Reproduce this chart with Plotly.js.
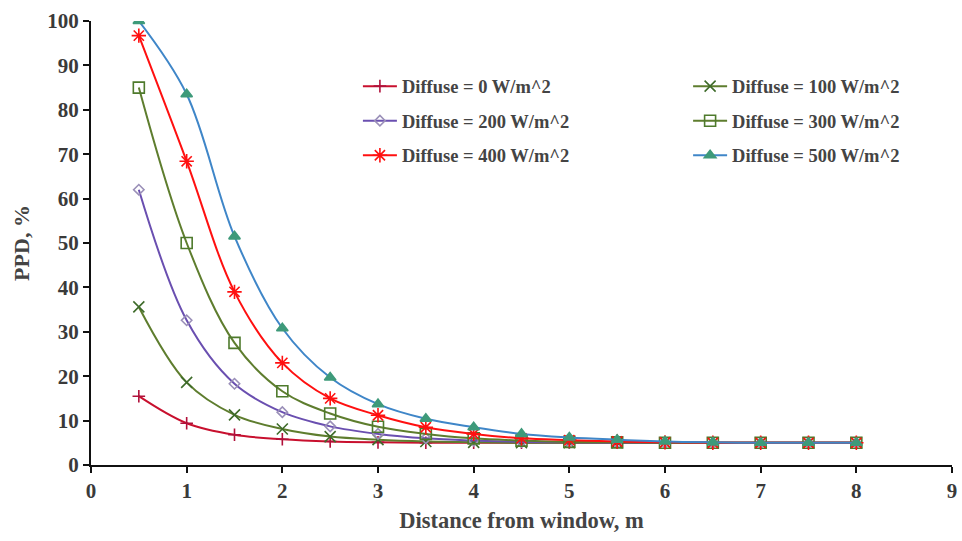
<!DOCTYPE html>
<html><head><meta charset="utf-8">
<script src="https://cdn.plot.ly/plotly-3.0.1.min.js"></script>
<style>html,body{margin:0;padding:0;background:#fff}#chart{width:962px;height:541px}</style>
</head><body><div id="chart"></div>
<script>
const distance = [0.5,1,1.5,2,2.5,3,3.5,4,4.5,5,5.5,6,6.5,7,7.5,8];
const seriesNames = ["Diffuse = 0 W/m^2","Diffuse = 100 W/m^2","Diffuse = 200 W/m^2","Diffuse = 300 W/m^2","Diffuse = 400 W/m^2","Diffuse = 500 W/m^2"];
const ppd0   = [15.5,9.4,6.8,5.8,5.3,5.1,5.0,5.0,5.0,5.0,5.0,5.0,5.0,5.0,5.0,5.0];
const ppd100 = [35.6,18.6,11.3,8.1,6.4,5.7,5.3,5.1,5.0,5.0,5.0,5.0,5.0,5.0,5.0,5.0];
const ppd200 = [62.0,32.6,18.3,11.9,8.7,7.0,6.0,5.5,5.2,5.1,5.0,5.0,5.0,5.0,5.0,5.0];
const ppd300 = [85.0,50.0,27.5,16.6,11.6,8.6,7.0,6.0,5.5,5.2,5.1,5.0,5.0,5.0,5.0,5.0];
const ppd400 = [96.7,68.4,39.0,23.0,15.0,11.2,8.5,7.0,6.0,5.6,5.3,5.1,5.0,5.0,5.0,5.0];
const ppd500 = [100.0,83.5,51.5,30.8,19.7,13.7,10.4,8.5,7.0,6.2,5.7,5.3,5.1,5.0,5.0,5.0];
const xTicks = [0,1,2,3,4,5,6,7,8,9];
const yTicks = [0,10,20,30,40,50,60,70,80,90,100];

const allData = [ppd0,ppd100,ppd200,ppd300,ppd400,ppd500];
const lineColors = ["#C8102E","#5E7D2E","#6A4FB0","#5E7D2E","#FF1010","#3F86C8"];
const markerColors = ["#B0103A","#3E6B2A","#9A8FB8","#4E7A2C","#FF1010","#3E9A7A"];
const symbols = ["cross-thin-open","x-thin-open","diamond-open","square-open","asterisk-open","triangle-up"];
const sizes = [9,11,8,11,12,10];
const legendsOf = ["legend","legend2","legend","legend2","legend","legend2"];

const traces = allData.map((d,i)=>({
  x: distance, y: d, name: seriesNames[i], type:"scatter", mode:"lines+markers",
  line:{color:lineColors[i], width:2, shape:"spline", smoothing:1},
  marker:{symbol:symbols[i], size:sizes[i], color:markerColors[i], line:{color:markerColors[i], width:1.6}},
  legend: legendsOf[i], legendgroup: "g"+i
}));

const fam = "Liberation Serif, Times New Roman, serif";
const legendFont = {family:fam, color:"#444", size:18.5, weight:"bold"};
const layout = {
  width:962, height:541,
  margin:{l:91, r:10, t:21, b:76},
  paper_bgcolor:"#fff", plot_bgcolor:"#fff",
  font: {family:fam, color:"#333", size:18},
  showlegend:true,
  xaxis:{range:[0,9], tickvals:xTicks, ticktext:xTicks.map(String), showgrid:false, zeroline:false,
    showline:true, linecolor:"#111", linewidth:2, ticks:"outside", ticklen:6, tickwidth:2, tickcolor:"#111",
    tickfont:{family:fam, size:21, color:"#3a3a3a", weight:"bold"},
    title:{text:"Distance from window, m", font:{family:fam, size:22.5, color:"#444", weight:"bold"}, standoff:10}},
  yaxis:{range:[0,100], tickvals:yTicks, ticktext:yTicks.map(String), showgrid:false, zeroline:false,
    showline:true, linecolor:"#111", linewidth:2, ticks:"outside", ticklen:6, tickwidth:2, tickcolor:"#111",
    tickfont:{family:fam, size:21, color:"#3a3a3a", weight:"bold"},
    title:{text:"PPD, %", font:{family:fam, size:22, color:"#444", weight:"bold"}, standoff:12}},
  legend:{x:0.31, y:0.895, xanchor:"left", yanchor:"top", bgcolor:"rgba(0,0,0,0)", font:legendFont,
    tracegroupgap:7.5, itemwidth:34},
  legend2:{x:0.6935, y:0.895, xanchor:"left", yanchor:"top", bgcolor:"rgba(0,0,0,0)", font:legendFont,
    tracegroupgap:7.5, itemwidth:34}
};
Plotly.newPlot("chart", traces, layout, {displayModeBar:false, staticPlot:true});
</script></body></html>
